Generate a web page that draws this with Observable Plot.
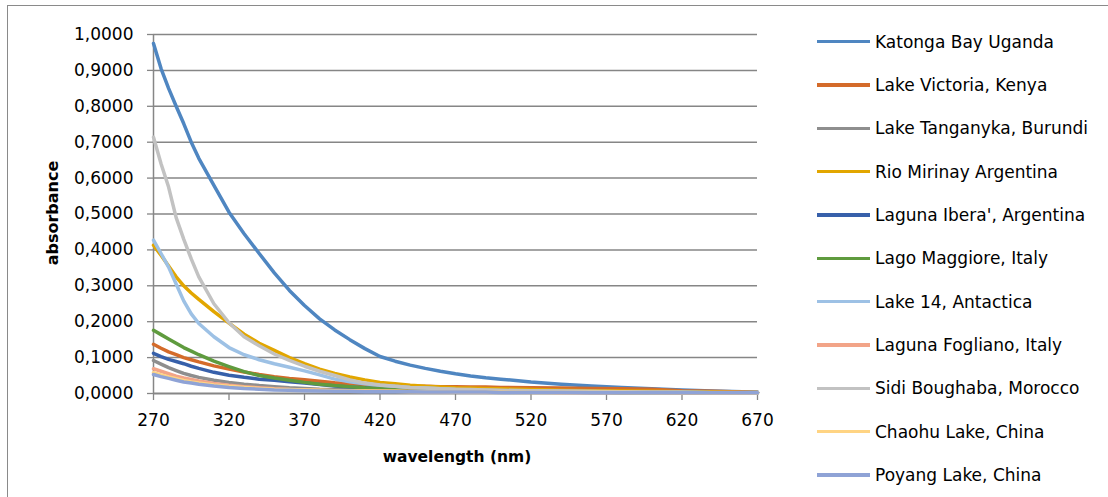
<!DOCTYPE html>
<html>
<head>
<meta charset="utf-8">
<script src="https://cdn.jsdelivr.net/npm/d3@7"></script>
<script src="https://cdn.jsdelivr.net/npm/@observablehq/plot@0.6"></script>
<style>
  html, body { margin: 0; padding: 0; background: #fff; }
  #wrap { position: relative; width: 1108px; height: 497px; overflow: hidden; background: #fff; }
  #frame { position: absolute; left: 7px; top: 5px; width: 1200px; height: 600px; border-left: 1.3px solid #8a8a8a; border-top: 1.3px solid #8a8a8a; pointer-events: none; }
  #chart { position: absolute; left: 0; top: 0; }
  .ttl { position: absolute; font-family: "DejaVu Sans", sans-serif; font-weight: bold; color: #000; white-space: nowrap; }
  #ytitle { font-size: 16px; left: 52px; top: 213px; transform: translate(-50%, -50%) rotate(-90deg); }
  #xtitle { font-size: 15.5px; left: 457px; top: 457px; transform: translate(-50%, -50%); }
  #legend { position: absolute; left: 0; top: 0; }
  .row { position: absolute; left: 817px; height: 24px; display: flex; align-items: center; }
  .swatch { width: 53px; height: 3.5px; margin-right: 5px; }
  .lab { font-family: "DejaVu Sans", sans-serif; font-size: 17px; color: #000; white-space: nowrap; }
</style>
</head>
<body>
<div id="wrap">
  <div id="chart"></div>
  <div id="frame"></div>
  <div class="ttl" id="ytitle">absorbance</div>
  <div class="ttl" id="xtitle">wavelength (nm)</div>
  <div id="legend"></div>
</div>
<script>
const wavelengths = [270,275,280,285,290,295,300,310,320,330,340,350,360,370,380,390,400,410,420,430,440,450,460,470,480,490,500,520,540,560,580,600,620,640,660,670];

const seriesNames = [
  "Katonga Bay Uganda",
  "Lake Victoria, Kenya",
  "Lake Tanganyka, Burundi",
  "Rio Mirinay Argentina",
  "Laguna Ibera', Argentina",
  "Lago Maggiore, Italy",
  "Lake 14, Antactica",
  "Laguna Fogliano, Italy",
  "Sidi Boughaba, Morocco",
  "Chaohu Lake, China",
  "Poyang Lake, China"
];

const seriesColors = ["#4F86C1","#D46B2A","#8E8E8E","#E2A600","#3760AA","#5F9B3E","#9DC1E5","#F2A488","#C2C2C2","#FFD483","#8FA3D6"];

const katonga   = [0.975,0.905,0.85,0.8,0.752,0.7,0.655,0.58,0.505,0.445,0.39,0.336,0.287,0.245,0.208,0.177,0.15,0.125,0.103,0.09,0.079,0.07,0.062,0.055,0.049,0.044,0.04,0.032,0.026,0.021,0.017,0.013,0.01,0.007,0.005,0.004];
const victoria  = [0.137,0.126,0.116,0.108,0.1,0.094,0.088,0.077,0.068,0.06,0.053,0.047,0.042,0.038,0.034,0.03,0.027,0.025,0.023,0.021,0.02,0.02,0.019,0.019,0.018,0.018,0.017,0.016,0.015,0.014,0.013,0.012,0.008,0.006,0.004,0.003];
const tanganyka = [0.092,0.082,0.072,0.064,0.056,0.05,0.045,0.037,0.031,0.026,0.022,0.019,0.016,0.014,0.012,0.011,0.01,0.009,0.008,0.007,0.007,0.006,0.006,0.005,0.005,0.005,0.004,0.004,0.004,0.003,0.003,0.003,0.002,0.002,0.002,0.002];
const mirinay   = [0.413,0.385,0.355,0.325,0.3,0.28,0.262,0.228,0.196,0.165,0.14,0.12,0.1,0.083,0.068,0.056,0.046,0.038,0.031,0.027,0.023,0.02,0.018,0.016,0.015,0.014,0.013,0.011,0.009,0.008,0.007,0.006,0.005,0.004,0.003,0.003];
const ibera     = [0.112,0.103,0.095,0.089,0.083,0.076,0.07,0.059,0.051,0.045,0.04,0.037,0.033,0.029,0.025,0.021,0.018,0.016,0.013,0.012,0.01,0.009,0.008,0.008,0.007,0.007,0.006,0.005,0.005,0.004,0.004,0.003,0.003,0.002,0.002,0.002];
const maggiore  = [0.176,0.164,0.152,0.14,0.128,0.118,0.108,0.09,0.075,0.061,0.05,0.043,0.037,0.031,0.026,0.022,0.019,0.016,0.014,0.012,0.011,0.01,0.009,0.008,0.007,0.007,0.006,0.005,0.004,0.004,0.003,0.003,0.003,0.002,0.002,0.002];
const lake14    = [0.427,0.39,0.352,0.305,0.258,0.222,0.195,0.158,0.128,0.108,0.094,0.083,0.073,0.063,0.052,0.04,0.033,0.027,0.023,0.02,0.017,0.015,0.013,0.011,0.01,0.009,0.008,0.007,0.006,0.005,0.004,0.003,0.003,0.002,0.002,0.002];
const fogliano  = [0.069,0.062,0.055,0.048,0.043,0.039,0.035,0.028,0.023,0.019,0.016,0.013,0.011,0.01,0.009,0.008,0.008,0.007,0.007,0.006,0.006,0.005,0.005,0.005,0.004,0.004,0.004,0.004,0.003,0.003,0.003,0.003,0.002,0.002,0.002,0.002];
const sidi      = [0.714,0.64,0.575,0.49,0.43,0.375,0.325,0.25,0.197,0.158,0.133,0.11,0.092,0.076,0.062,0.05,0.038,0.029,0.024,0.02,0.017,0.015,0.013,0.012,0.011,0.01,0.009,0.008,0.007,0.006,0.005,0.004,0.004,0.003,0.003,0.003];
const chaohu    = [0.058,0.052,0.046,0.041,0.036,0.032,0.029,0.024,0.02,0.017,0.014,0.012,0.011,0.01,0.009,0.008,0.007,0.007,0.006,0.006,0.005,0.005,0.005,0.004,0.004,0.004,0.004,0.003,0.003,0.003,0.003,0.002,0.002,0.002,0.002,0.002];
const poyang    = [0.053,0.047,0.042,0.037,0.032,0.029,0.026,0.021,0.017,0.014,0.012,0.01,0.009,0.008,0.007,0.006,0.006,0.005,0.005,0.005,0.005,0.004,0.004,0.004,0.004,0.004,0.003,0.003,0.003,0.002,0.002,0.002,0.002,0.002,0.002,0.002];

const seriesValues = [katonga, victoria, tanganyka, mirinay, ibera, maggiore, lake14, fogliano, sidi, chaohu, poyang];

const xTicks = [270,320,370,420,470,520,570,620,670];
const yTicks = [0,0.1,0.2,0.3,0.4,0.5,0.6,0.7,0.8,0.9,1.0];

const rows = [];
seriesNames.forEach((name, i) => {
  wavelengths.forEach((w, j) => rows.push({series: name, wl: w, abs: seriesValues[i][j]}));
});

const grey = "#868686";

const plot = Plot.plot({
  width: 1108,
  height: 497,
  marginLeft: 153,
  marginRight: 351,
  marginTop: 34,
  marginBottom: 104,
  style: {fontFamily: "DejaVu Sans, sans-serif", fontSize: "17px", background: "transparent", color: "#000"},
  x: {domain: [270, 670], ticks: xTicks},
  y: {domain: [0, 1], ticks: yTicks},
  color: {domain: seriesNames, range: seriesColors},
  marks: [
    Plot.ruleY(yTicks.filter(d => d > 0), {stroke: grey, strokeWidth: 1.5}),
    Plot.axisY({ticks: yTicks, tickSize: 6, tickPadding: 14, stroke: grey, strokeWidth: 1.3,
      tickFormat: d => d.toFixed(4).replace(".", ","), label: null}),
    Plot.axisX({ticks: xTicks, tickSize: 7, tickPadding: 13, stroke: grey, strokeWidth: 1.3,
      tickFormat: d => String(d), label: null}),
    Plot.ruleX([270], {stroke: grey, strokeWidth: 1.5}),
    Plot.ruleY([0], {stroke: grey, strokeWidth: 2}),
    Plot.line(rows, {x: "wl", y: "abs", z: "series", stroke: "series", strokeWidth: 3.5, strokeLinejoin: "round"})
  ]
});
document.getElementById("chart").appendChild(plot);

const legend = document.getElementById("legend");
seriesNames.forEach((name, i) => {
  const row = document.createElement("div");
  row.className = "row";
  row.style.top = (41.7 + i * 43.33 - 12) + "px";
  const sw = document.createElement("div");
  sw.className = "swatch";
  sw.style.background = seriesColors[i];
  const lab = document.createElement("span");
  lab.className = "lab";
  lab.textContent = name;
  row.appendChild(sw);
  row.appendChild(lab);
  legend.appendChild(row);
});
</script>
</body>
</html>
